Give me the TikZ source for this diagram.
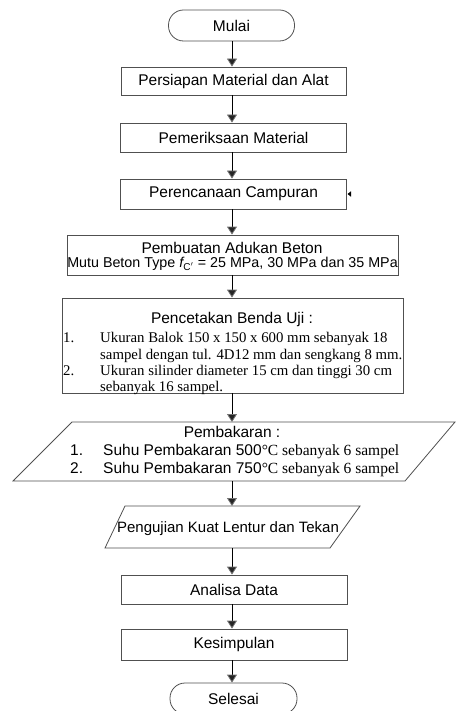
\documentclass[tikz,border=0pt]{standalone}
\usepackage{fontspec}
\setmainfont{Liberation Sans}
\newfontfamily\tms{Liberation Serif}
\usetikzlibrary{arrows.meta}
\definecolor{boxgray}{HTML}{505050}
\begin{document}
\begin{tikzpicture}[x=1pt,y=-1pt,
  sf/.style={font=\fontsize{15.5}{17}\selectfont},
  boxline/.style={draw=boxgray,line width=0.8pt},
  procbox/.style={boxline,sf,rectangle,inner sep=0pt},
  term/.style={boxline,sf,rectangle,rounded corners=15pt,inner sep=0pt,minimum width=126pt,minimum height=31pt},
  txt/.style={inner sep=0pt},
  arr/.style={line width=0.8pt,draw=black,-{Triangle[width=10pt,length=8pt,color=black!55,fill=black!85]}}]
\useasboundingbox (0,0) rectangle (456,711);
\coordinate (sp) at (232,0);

\node[term] (mulai) at (231.5,25.5) {Mulai};
\node[procbox,minimum width=225pt,minimum height=28pt] (b1) at (233.5,81) {Persiapan Material dan Alat};
\node[procbox,minimum width=226pt,minimum height=29pt] (b2) at (233.5,137.5) {Pemeriksaan Material};
\node[procbox,minimum width=226pt,minimum height=30pt] (b3) at (233.5,194) {Perencanaan Campuran};
\fill[black] (347.5,194) -- (351,191.3) -- (351,196.7) -- cycle;

\node[procbox,minimum width=331pt,minimum height=40pt] (b4) at (232.5,255) {};
\node[txt,sf,anchor=base] (b4a) at (232,253) {Pembuatan Adukan Beton};
\node[txt,font=\fontsize{14.3}{16}\selectfont,anchor=base] (b4b) at (232.5,267.5) {Mutu Beton Type {\itshape f}\textsubscript{C$'$} = 25 MPa, 30 MPa dan 35 MPa};

\node[procbox,minimum width=341pt,minimum height=95pt] (b5) at (232.5,345.5) {};
\node[txt,sf,anchor=base] (b5h) at (232,323) {Pencetakan Benda Uji :};
\begin{scope}[every node/.style={txt,anchor=base west,font=\tms\fontsize{14.8}{16}\selectfont}]
\node (n1) at (63,342) {1.};
\node (l1) at (100,342) {Ukuran Balok 150 x 150 x 600 mm sebanyak 18};
\node (l2) at (100,359) {sampel dengan tul. 4D12 mm dan sengkang 8 mm.};
\node (n2) at (63,375) {2.};
\node (l3) at (100,375) {Ukuran silinder diameter 15 cm dan tinggi 30 cm};
\node (l4) at (100,391) {sebanyak 16 sampel.};
\end{scope}

\draw[boxline] (72,422) coordinate (p1tl) -- (455,422) -- (405,481) -- (13,481) coordinate (p1bl) -- cycle;
\coordinate (p1top) at (232,422);
\coordinate (p1bot) at (232,481);
\node[txt,sf,anchor=base] (p1h) at (232,437) {Pembakaran :};
\node[txt,sf,anchor=base west] (p1n1) at (70,455) {1.};
\node[txt,sf,anchor=base west] (p1l1) at (103,455) {Suhu Pembakaran 500{\tms\fontsize{15.5}{17}\selectfont °C sebanyak 6 sampel}};
\node[txt,sf,anchor=base west] (p1n2) at (70,473) {2.};
\node[txt,sf,anchor=base west] (p1l2) at (103,473) {Suhu Pembakaran 750{\tms\fontsize{15.5}{17}\selectfont °C sebanyak 6 sampel}};

\draw[boxline] (125,506) -- (360,506) -- (330,548) -- (105,548) -- cycle;
\coordinate (p2top) at (232,506);
\coordinate (p2bot) at (232,548);
\node[txt,font=\fontsize{15}{17}\selectfont,anchor=base] (p2t) at (228,532) {Pengujian Kuat Lentur dan Tekan};

\node[procbox,minimum width=226pt,minimum height=29pt] (b6) at (234,589.5) {Analisa Data};
\node[procbox,minimum width=226pt,minimum height=31pt] (b7) at (234,644.5) {Kesimpulan};
\node[term,minimum width=127pt] (selesai) at (233.5,698.5) {Selesai};

\draw[arr] (mulai.south -| sp) -- (b1.north -| sp);
\draw[arr] (b1.south -| sp) -- (b2.north -| sp);
\draw[arr] (b2.south -| sp) -- (b3.north -| sp);
\draw[arr] (b3.south -| sp) -- (b4.north -| sp);
\draw[arr] (b4.south -| sp) -- (b5.north -| sp);
\draw[arr] (b5.south -| sp) -- (p1top);
\draw[arr] (p1bot) -- (p2top);
\draw[arr] (p2bot) -- (b6.north -| sp);
\draw[arr] (b6.south -| sp) -- (b7.north -| sp);
\draw[arr] (b7.south -| sp) -- (selesai.north -| sp);
\end{tikzpicture}
\end{document}
